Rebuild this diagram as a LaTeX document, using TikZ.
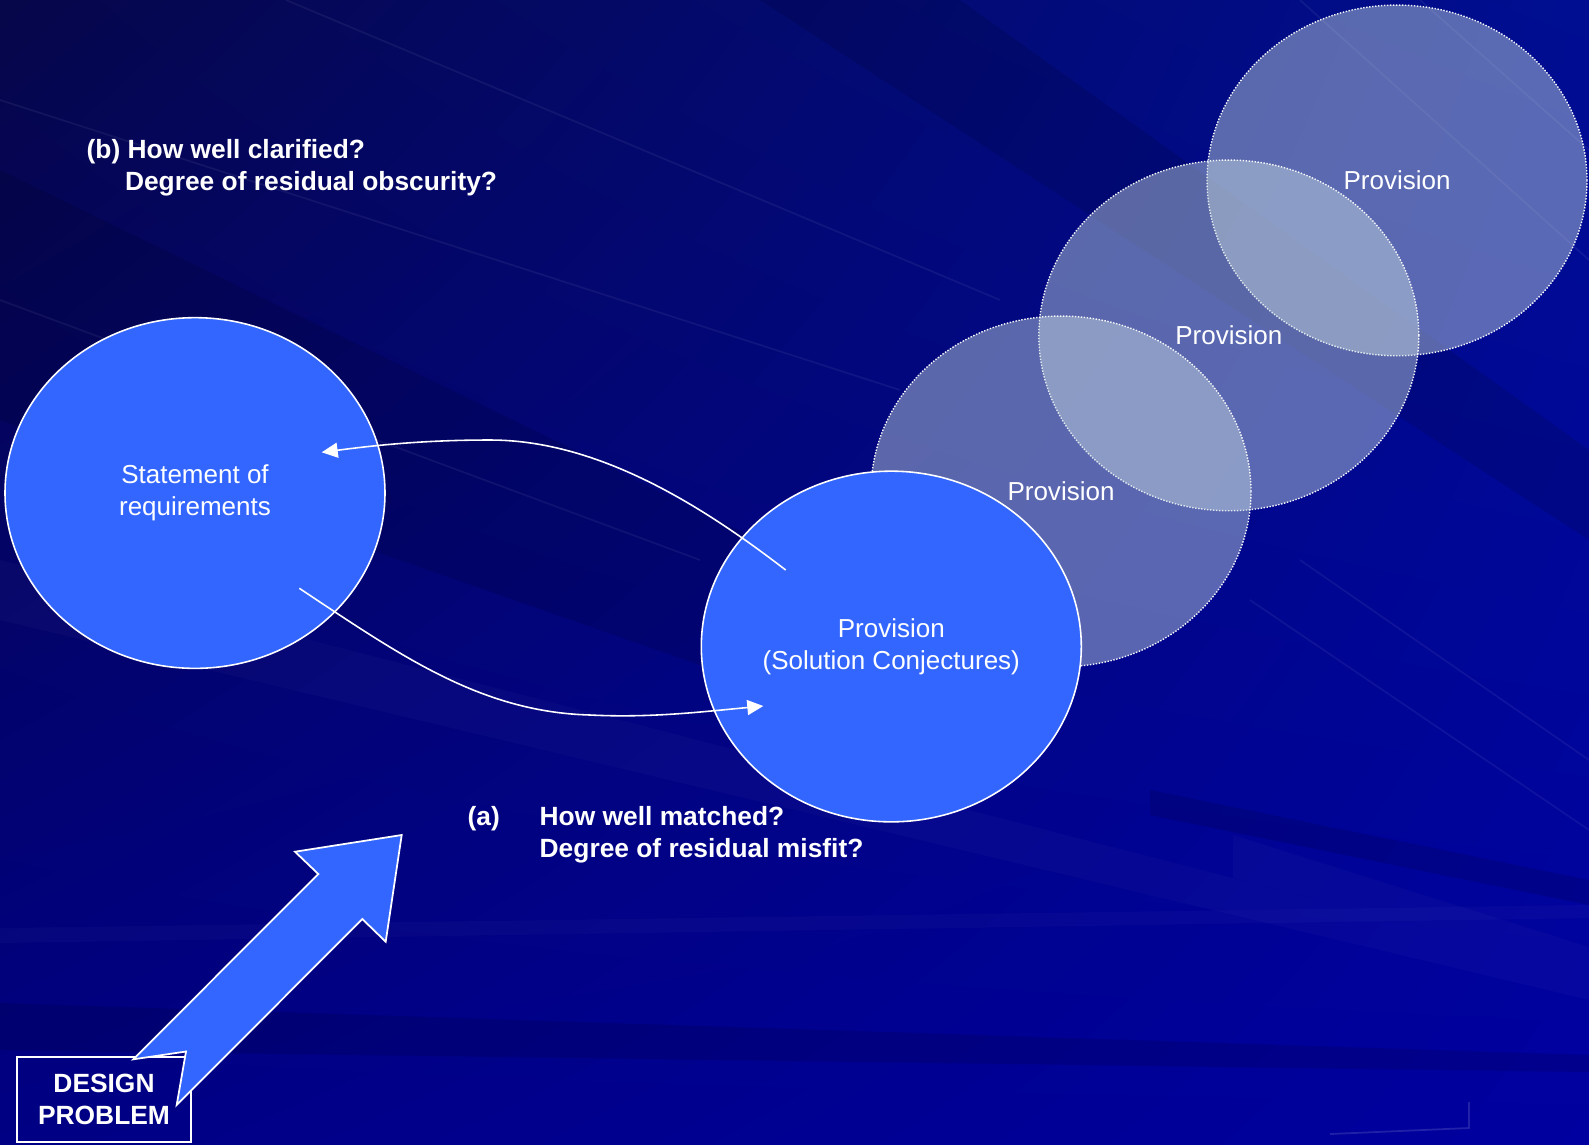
\documentclass[tikz,border=0pt]{standalone}
\usepackage{fontspec}
\setmainfont{Liberation Sans}
\usetikzlibrary{arrows.meta,shapes.geometric,calc,shadings}
\definecolor{bgUL}{HTML}{06064A}
\definecolor{bgUR}{HTML}{000E92}
\definecolor{bgLL}{HTML}{000084}
\definecolor{bgLR}{HTML}{0000A0}
\definecolor{bubble}{HTML}{3366FF}
\definecolor{ghost}{HTML}{C8DCE1}
\begin{document}
\begin{tikzpicture}[x=0.1mm,y=-0.1mm,
  txt/.style={text=white, font=\fontsize{7.4pt}{9.2pt}\selectfont, align=center},
  boldtxt/.style={text=white, font=\fontsize{7.5pt}{8.9pt}\selectfont\bfseries, inner sep=0pt, anchor=base west},
  solidbubble/.style={ellipse, minimum width=38mm, minimum height=35.07mm, inner sep=0pt,
    fill=bubble, draw=white, line width=0.45pt, txt},
  ghostbubble/.style={ellipse, minimum width=38mm, minimum height=35.07mm, inner sep=0pt,
    fill=ghost, fill opacity=0.45, text opacity=1, draw=white, draw opacity=0.95,
    line width=0.4pt, dash pattern=on 0.4pt off 0.45pt, txt},
  feedback/.style={draw=white, line width=0.45pt, -{Triangle[length=1.6mm,width=1.5mm]}},
  darkband/.style={fill=black, fill opacity=0.11},
  lightband/.style={fill=white, fill opacity=0.025},
  bgray/.style={draw=white, draw opacity=0.06, line width=0.5pt},
]
\useasboundingbox (0,0) rectangle (1589,1144);

% slide background: navy gradient with diagonal streaks
\shade[upper left=bgUL, upper right=bgUR, lower left=bgLL, lower right=bgLR] (0,0) rectangle (1589,1144);
\fill[darkband] (760,0) -- (960,0) -- (1589,450) -- (1589,540) -- cycle;
\fill[darkband] (0,170) -- (800,560) -- (800,700) -- (0,420) -- cycle;
\fill[darkband] (0,1003) -- (1589,1055) -- (1589,1072) -- (0,1050) -- cycle;
\fill[darkband] (1150,790) -- (1589,880) -- (1589,905) -- (1150,815) -- cycle;
\fill[lightband] (0,560) -- (1589,970) -- (1589,1000) -- (0,620) -- cycle;
\fill[lightband] (1233,835) -- (1589,947) -- (1589,970) -- (1233,878) -- cycle;
\fill[lightband] (0,928) -- (1589,905) -- (1589,918) -- (0,943) -- cycle;
\draw[bgray] (0,100) -- (900,390);
\draw[bgray] (286,0) -- (1000,300);
\draw[bgray] (0,300) -- (700,560);
\draw[bgray] (1300,0) -- (1589,260);
\draw[bgray] (1420,0) -- (1589,150);
\draw[bgray] (1300,560) -- (1589,760);
\draw[bgray] (1250,600) -- (1589,830);
\draw[draw=white, draw opacity=0.13, line width=0.5pt] (1469,1102) -- (1469,1128) -- (1330,1134);

% requirement and successive provisions
\node[solidbubble] (req) at (195,493) {Statement of\\requirements};
\node[ghostbubble] (p3) at (1397,180.4) {Provision};
\node[ghostbubble] (p2) at (1228.8,335.4) {Provision};
\node[ghostbubble] (p1) at (1061,491.4) {Provision};
\node[solidbubble] (prov) at (891.3,646.5) {Provision\\(Solution Conjectures)};

% feedback loop between the two
\coordinate (fromprov) at ($(prov.center)+(-105.6,-76.5)$);
\coordinate (intoreq) at ($(req.center)+(126.7,-40.7)$);
\coordinate (fromreq) at ($(req.center)+(104.3,95.3)$);
\coordinate (intoprov) at ($(prov.center)+(-128,59.5)$);
\draw[feedback] (fromprov) .. controls (705,508) and (600,440) .. (490,440)
  .. controls (420,440) and (370,446) .. (intoreq);
\draw[feedback] (fromreq) .. controls (400,655) and (480,712) .. (590,715)
  .. controls (650,718) and (700,712) .. (intoprov);

% questions
\node[boldtxt] (bq1) at (86,158.3) {(b) How well clarified?};
\node[boldtxt] (bq2) at (124.3,190) {Degree of residual obscurity?};
\node[boldtxt] (aq0) at (467,825.7) {(a)};
\node[boldtxt] (aq1) at (539,825.7) {How well matched?};
\node[boldtxt] (aq2) at (539,857) {Degree of residual misfit?};

% design problem box and block arrow
\node[draw=white, line width=0.6pt, minimum width=17.4mm, minimum height=8.55mm, inner sep=0pt,
  text=white, align=center, font=\fontsize{7.5pt}{9.1pt}\selectfont\bfseries] (dp) at (104,1099.5) {DESIGN\\PROBLEM};
\draw[fill=bubble, draw=white, line width=0.5pt, line join=miter]
  (133.3,1059.3) -- (318.3,874) -- (295,851.7) -- (401.7,835) -- (385.7,941.7)
  -- (362.3,919) -- (176.7,1105) -- (186,1051.5) -- cycle;
\end{tikzpicture}
\end{document}
